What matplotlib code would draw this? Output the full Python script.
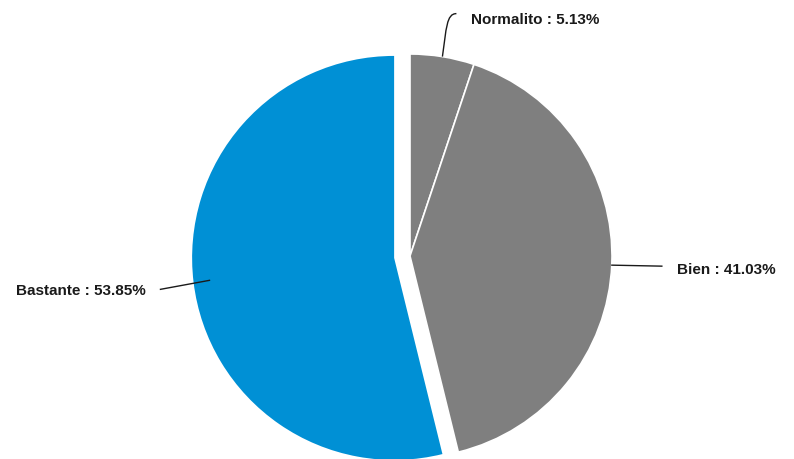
import numpy as np
import matplotlib
matplotlib.use("Agg")
import matplotlib.pyplot as plt
from matplotlib.path import Path
from matplotlib.patches import PathPatch

labels = ["Normalito", "Bien", "Bastante"]
values = [5.13, 41.03, 53.85]
colors = ["#7f7f7f", "#7f7f7f", "#0090d5"]

W, H = 794, 460
fig = plt.figure(figsize=(W / 100, H / 100), dpi=100)
ax = fig.add_axes([0, 0, 1, 1])

cx, cy, R = 410, H - 257, 202
# the offset is in data units (one unit = one pixel here)
explode = [0.0, 0.0, 16.0]
wedges, _ = ax.pie(values, colors=colors, startangle=90, counterclock=False,
                   explode=explode, center=(cx, cy), radius=R,
                   wedgeprops=dict(edgecolor="white", linewidth=1.2))
wedges[2].set_edgecolor("none")
ax.set_xlim(0, W)
ax.set_ylim(0, H)
ax.set_aspect("equal")
ax.axis("off")

font = dict(fontsize=11, fontweight="bold", color="#1a1a1a",
            family=["Liberation Sans", "DejaVu Sans"], va="center")

# anchor point on the rim of each wedge, at its mid angle
total = sum(values)
angles = []
acc = 0.0
for v in values:
    mid = 90 - (acc + v / 2) / total * 360
    angles.append(np.deg2rad(mid))
    acc += v
anchors = [(cx + R * np.cos(a), cy + R * np.sin(a)) for a in angles]

# Normalito: curved leader upward
ax0, ay0 = anchors[0]
verts = [(ax0, ay0), (ax0 + 4, ay0 + 28), (ax0 + 4, ay0 + 43), (ax0 + 14, ay0 + 43)]
path = Path(verts, [Path.MOVETO, Path.CURVE4, Path.CURVE4, Path.CURVE4])
ax.add_patch(PathPatch(path, facecolor="none", edgecolor="#1a1a1a", lw=1.0))
ax.text(ax0 + 29, ay0 + 38, f"{labels[0]} : {values[0]:.2f}%", ha="left", **font)

# Bien: horizontal leader to the right
ax1, ay1 = anchors[1]
ax.plot([ax1, ax1 + 50], [ay1 - 1, ay1 - 2], color="#1a1a1a", lw=1.0)
ax.text(ax1 + 65, ay1 - 5, f"{labels[1]} : {values[1]:.2f}%", ha="left", **font)

# Bastante: leader to the left
ax2, ay2 = anchors[2]
ax.plot([ax2, ax2 - 49], [ay2, ay2 - 9], color="#1a1a1a", lw=1.0)
ax.text(ax2 - 64, ay2 - 10, f"{labels[2]} : {values[2]:.2f}%", ha="right", **font)

fig.savefig("out.png", dpi=100)
